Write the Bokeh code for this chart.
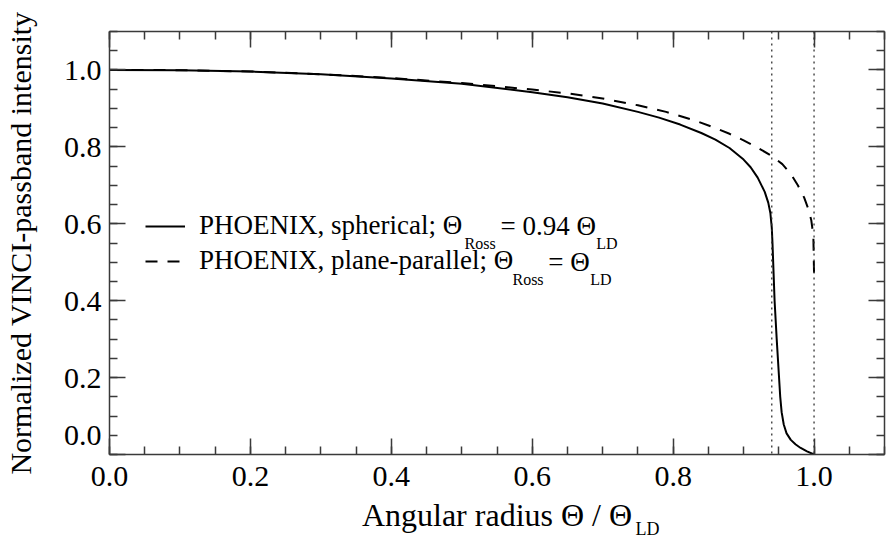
from bokeh.plotting import figure
from bokeh.models import (Span, Label, LinearAxis, SingleIntervalTicker, Legend, LegendItem,
                          Range1d, PrintfTickFormatter, Title)
from bokeh.embed import file_html
from bokeh.resources import INLINE

# ---------------- data ----------------
sph_x = [0.0, 0.1, 0.2, 0.3, 0.4, 0.5, 0.6, 0.65, 0.70, 0.75, 0.78, 0.81, 0.84, 0.86, 0.88,
         0.90, 0.91, 0.92, 0.93, 0.935, 0.938, 0.940, 0.941, 0.942, 0.944, 0.947, 0.950,
         0.952, 0.954, 0.957, 0.961, 0.967, 0.974, 0.981, 0.990, 1.0]
sph_y = [1.0, 0.9995, 0.996, 0.989, 0.978, 0.964, 0.942, 0.929, 0.913, 0.891, 0.876, 0.858, 0.836, 0.819, 0.797,
         0.767, 0.747, 0.720, 0.683, 0.655, 0.628, 0.590, 0.55, 0.50, 0.40, 0.30, 0.21,
         0.15, 0.11, 0.078, 0.055, 0.038, 0.026, 0.017, 0.008, 0.0]

pp_x = [0.0, 0.1, 0.2, 0.3, 0.4, 0.5, 0.6, 0.65, 0.70, 0.75, 0.79, 0.83, 0.86, 0.88, 0.90,
        0.92, 0.94, 0.955, 0.967, 0.977, 0.986, 0.992, 0.996, 0.999, 1.0]
pp_y = [1.0, 0.9995, 0.996, 0.989, 0.979, 0.966, 0.949, 0.939, 0.926, 0.908, 0.891, 0.869, 0.849, 0.834, 0.817,
        0.798, 0.776, 0.755, 0.730, 0.700, 0.668, 0.638, 0.610, 0.570, 0.47]

ref_lines = [0.94, 1.0]
x_ticks_major = 0.2
y_ticks_major = 0.2
x_range = (0.0, 1.1)
y_range = (0.0, 1.1)

series_labels = ["PHOENIX, spherical; \u0398", "PHOENIX, plane-parallel; \u0398"]

FONT = "Liberation Serif"
AX = "#3a3a3a"

p = figure(width=888, height=541, x_range=Range1d(*x_range), y_range=Range1d(*y_range),
           output_backend="svg", toolbar_location=None,
           min_border_left=107, min_border_right=4, min_border_top=31, min_border_bottom=87,
           x_axis_label="Angular radius \u0398 / \u0398",
           y_axis_label="Normalized VINCI-passband intensity")
p.background_fill_color = "white"
p.border_fill_color = "white"
p.outline_line_color = None
p.xgrid.visible = False
p.ygrid.visible = False

def style_axis(ax, show_labels=True):
    ax.axis_line_color = AX
    ax.axis_line_width = 1.5
    ax.major_tick_line_color = AX
    ax.minor_tick_line_color = AX
    ax.major_tick_line_width = 1.5
    ax.minor_tick_line_width = 1.5
    ax.major_tick_in = 16
    ax.major_tick_out = 0
    ax.minor_tick_in = 8
    ax.minor_tick_out = 0
    ax.formatter = PrintfTickFormatter(format="%.1f")
    ax.major_label_text_font = FONT
    ax.major_label_text_font_size = "30px"
    ax.major_label_text_color = "black" if show_labels else None
    ax.axis_label_text_font = FONT
    ax.axis_label_text_font_size = "30px"
    ax.axis_label_text_font_style = "normal"
    ax.axis_label_text_color = "black"

p.xaxis.ticker = SingleIntervalTicker(interval=x_ticks_major, num_minor_ticks=4)
p.yaxis.ticker = SingleIntervalTicker(interval=y_ticks_major, num_minor_ticks=4)
for ax in p.xaxis:
    style_axis(ax)
    ax.major_label_standoff = 12
    ax.axis_label_standoff = 8
    ax.axis_label_text_font_size = "32px"
for ax in p.yaxis:
    style_axis(ax)
    ax.major_label_standoff = 8
    ax.axis_label_standoff = 24
    # the bottom y label sits a little above its tick, as in the reference
    ax.major_label_overrides = {0: "0.0\n "}

top = LinearAxis(ticker=SingleIntervalTicker(interval=x_ticks_major, num_minor_ticks=4))
style_axis(top, False)
p.add_layout(top, "above")
right = LinearAxis(ticker=SingleIntervalTicker(interval=y_ticks_major, num_minor_ticks=4))
style_axis(right, False)
p.add_layout(right, "right")

for loc in ref_lines:
    p.add_layout(Span(location=loc, dimension="height", line_color="#333333",
                      line_width=1.3, line_dash="2 4"))

r1 = p.line(sph_x, sph_y, line_color="black", line_width=2)
r2 = p.line(pp_x, pp_y, line_color="black", line_width=2, line_dash="12 10")

legend = Legend(items=[LegendItem(label=series_labels[0], renderers=[r1]),
                       LegendItem(label=series_labels[1], renderers=[r2])],
                location=(36, 178), padding=0, margin=0, spacing=4,
                border_line_color=None, background_fill_alpha=0,
                glyph_width=40, glyph_height=20, label_standoff=14,
                label_text_font=FONT, label_text_font_size="27px",
                label_text_color="black")
p.add_layout(legend, "center")

# subscript of the x-axis title (drawn in the bottom panel, pulled up over the axis title row)
p.add_layout(Title(text="LD", align="left", offset=526, vertical_align="top", standoff=-34,
                   text_font=FONT, text_font_size="18px", text_font_style="normal",
                   text_color="black"), "below")

# helpers to convert canvas pixel positions to data for annotation text
FL, FR, FT, FB = 107, 884, 31, 454
def dx(px):
    return x_range[0] + (px - FL) / (FR - FL) * (x_range[1] - x_range[0])
def dy(py):
    return y_range[0] + (FB - py) / (FB - FT) * (y_range[1] - y_range[0])

def lab(text, px, py, size, align="left", baseline="middle"):
    p.add_layout(Label(x=dx(px), y=dy(py), text=text, text_font=FONT, text_font_size=size,
                       text_align=align, text_baseline=baseline, text_color="black"))

# legend subscripts and continuations
lab("Ross", 463, 243, "16px")
lab("= 0.94 \u0398", 499, 225, "27px")
lab("LD", 595, 243, "16px")
lab("Ross", 511, 279, "16px")
lab("= \u0398", 547, 261, "27px")
lab("LD", 589, 279, "16px")

open("out.html", "w").write(file_html(p, INLINE))
